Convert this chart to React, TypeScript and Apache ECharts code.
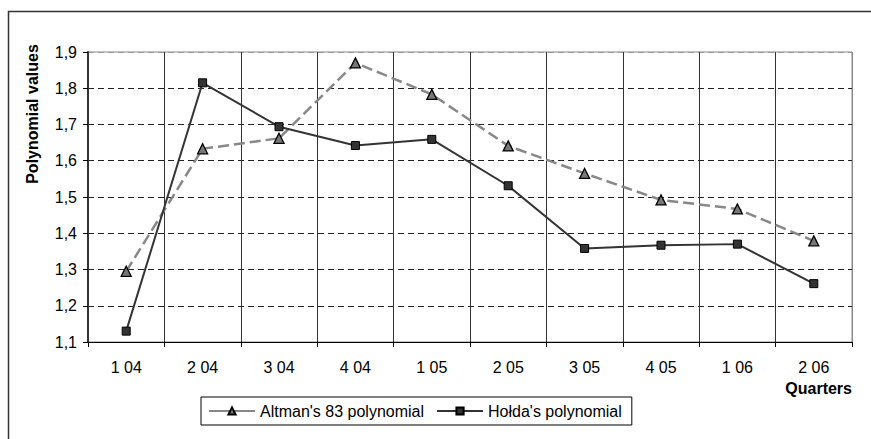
import React, { useEffect, useRef } from "react";
import * as echarts from "echarts";

const categories = ["1 04", "2 04", "3 04", "4 04", "1 05", "2 05", "3 05", "4 05", "1 06", "2 06"];
const altmanValues = [1.295, 1.633, 1.662, 1.87, 1.783, 1.641, 1.565, 1.492, 1.467, 1.379];
const holdaValues = [1.13, 1.815, 1.694, 1.642, 1.659, 1.531, 1.358, 1.367, 1.37, 1.261];
const yMin = 1.1;
const yMax = 1.9;
const yStep = 0.1;

const FONT = "'Liberation Sans', Arial, Helvetica, sans-serif";

export default function App() {
  const ref = useRef<HTMLDivElement>(null);
  useEffect(() => {
    if (!ref.current) return;
    const chart = echarts.init(ref.current, null, { renderer: "svg" });
    chart.setOption({
      animation: false,
      backgroundColor: "#fff",
      textStyle: { fontFamily: FONT },
      grid: {
        left: 88,
        top: 52,
        right: 19,
        bottom: 97,
        show: true,
        borderColor: "#888",
        borderWidth: 1,
      },
      xAxis: {
        type: "category",
        data: categories,
        boundaryGap: true,
        axisLine: { show: true, lineStyle: { color: "#000", width: 1 } },
        axisTick: { show: true, length: 5, inside: false, lineStyle: { color: "#000" } },
        axisLabel: { color: "#000", fontSize: 16, fontFamily: FONT, margin: 17 },
        splitLine: {
          show: true,
          lineStyle: {
            color: ["#333", "#333", "#333", "#333", "#333", "#333", "#333", "#333", "#333", "#333", "#888"],
            width: 1,
            type: "solid",
          },
        },
      },
      yAxis: {
        type: "value",
        min: yMin,
        max: yMax,
        interval: yStep,
        axisLine: { show: true, lineStyle: { color: "#333", width: 2 } },
        axisTick: { show: true, length: 5, inside: false, lineStyle: { color: "#000" } },
        axisLabel: {
          color: "#000",
          fontSize: 16,
          fontFamily: FONT,
          margin: 11,
          formatter: (v: number) => v.toFixed(1).replace(".", ","),
        },
        splitLine: {
          show: true,
          lineStyle: {
            color: ["#222", "#222", "#222", "#222", "#222", "#222", "#222", "#222", "#999"],
            width: 1,
            type: [6, 4],
          },
        },
      },
      legend: {
        left: 201,
        top: 397,
        orient: "horizontal",
        padding: [5, 10, 5, 7],
        itemGap: 12,
        itemWidth: 46,
        itemHeight: 9,
        borderColor: "#000",
        borderWidth: 1,
        lineStyle: { type: "solid" },
        textStyle: { color: "#000", fontSize: 16, fontFamily: FONT, lineHeight: 18 },
        data: ["Altman's 83 polynomial", "Hołda's polynomial"],
      },
      graphic: [
        {
          type: "rect",
          shape: { x: 8.5, y: 11.5, width: 900, height: 500 },
          style: { fill: "none", stroke: "#333", lineWidth: 1.5 },
          silent: true,
          z: -1,
        },
        {
          type: "text",
          x: 32,
          y: 114,
          rotation: Math.PI / 2,
          style: {
            text: "Polynomial values",
            fill: "#000",
            font: `bold 16px ${FONT}`,
            align: "center",
            verticalAlign: "middle",
          },
        },
        {
          type: "text",
          x: 852,
          y: 388,
          style: {
            text: "Quarters",
            fill: "#000",
            font: `bold 16px ${FONT}`,
            align: "right",
            verticalAlign: "middle",
          },
        },
      ],
      series: [
        {
          name: "Altman's 83 polynomial",
          type: "line",
          data: altmanValues,
          symbol: "triangle",
          symbolSize: 10,
          itemStyle: { color: "#777", borderColor: "#000", borderWidth: 1.3 },
          lineStyle: { color: "#888", width: 2.5, type: [11, 5] },
          z: 3,
        },
        {
          name: "Hołda's polynomial",
          type: "line",
          data: holdaValues,
          symbol: "rect",
          symbolSize: 8,
          itemStyle: { color: "#333", borderColor: "#000", borderWidth: 1 },
          lineStyle: { color: "#333", width: 2, type: "solid" },
          z: 4,
        },
      ],
    });
    return () => chart.dispose();
  }, []);
  return (
    <div
      ref={ref}
      style={{ position: "fixed", left: 0, top: 0, width: 871, height: 439 }}
    />
  );
}
